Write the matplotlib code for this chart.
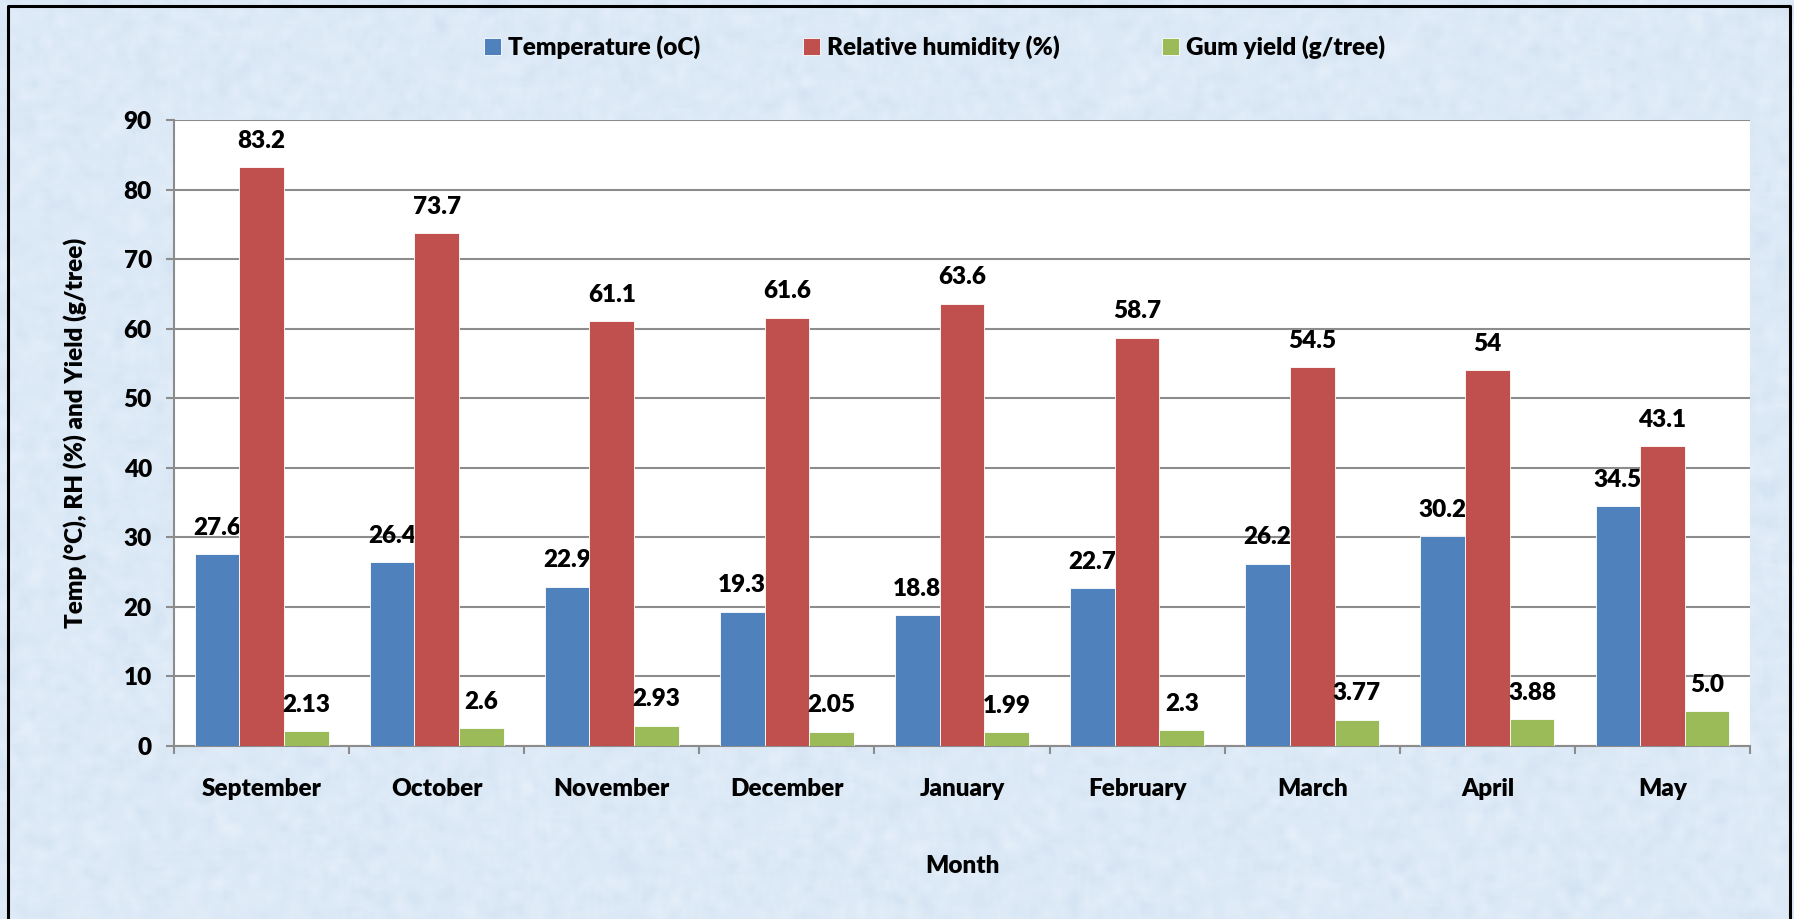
import numpy as np
import matplotlib
matplotlib.use("Agg")
import matplotlib.pyplot as plt
from matplotlib.lines import Line2D

plt.rcParams['font.family'] = ['Lato', 'DejaVu Sans']
plt.rcParams['font.weight'] = 'heavy'

# Monthly climate and gum yield
months = ['September', 'October', 'November', 'December', 'January',
          'February', 'March', 'April', 'May']
temp_labels = ['27.6', '26.4', '22.9', '19.3', '18.8', '22.7', '26.2', '30.2', '34.5']
rh_labels = ['83.2', '73.7', '61.1', '61.6', '63.6', '58.7', '54.5', '54', '43.1']
gum_labels = ['2.13', '2.6', '2.93', '2.05', '1.99', '2.3', '3.77', '3.88', '5.0']

series = [
    ('Temperature (oC)', temp_labels, '#4F81BD'),
    ('Relative humidity (%)', rh_labels, '#C0504D'),
    ('Gum yield (g/tree)', gum_labels, '#9BBB59'),
]

bg = '#DCE8F6'
grid_col = '#8C8C8C'
fs = 17.5
fw = 'heavy'

fig = plt.figure(figsize=(17.94, 9.19), dpi=100, facecolor=bg)

# fine mottled paper texture behind everything
rng = np.random.default_rng(7)
tex = rng.normal(size=(230, 450))
k = np.ones(3) / 3
tex = np.apply_along_axis(lambda r: np.convolve(r, k, mode='same'), 1, tex)
tex = np.apply_along_axis(lambda c: np.convolve(c, k, mode='same'), 0, tex)
tex = np.clip((tex + 1.2) / 2.4, 0, 1)
c0 = np.array([0.83, 0.89, 0.95])
c1 = np.array([0.90, 0.94, 0.98])
img = c0 + (c1 - c0) * tex[..., None]
bax = fig.add_axes([0, 0, 1, 1], zorder=-10)
bax.imshow(img, aspect='auto', interpolation='bilinear', extent=[0, 1, 0, 1])
bax.axis('off')

ax = fig.add_axes([0.097, 0.1883, 0.8785, 0.6811])
ax.set_facecolor('white')

x = np.arange(len(months))
w = 0.255
for i, (name, labels, col) in enumerate(series):
    vals = [float(v) for v in labels]
    pos = x + (i - 1) * w
    bars = ax.bar(pos, vals, width=w, color=col, edgecolor='white', linewidth=0.6,
                  label=name, zorder=3)
    for b, txt in zip(bars, labels):
        ax.annotate(txt, (b.get_x() + b.get_width() / 2, b.get_height()),
                    xytext=(0, 11), textcoords='offset points',
                    ha='center', va='bottom', fontsize=fs, fontweight=fw)

ax.set_xlim(-0.5, len(months) - 0.5)
ax.set_ylim(0, 90)
ax.set_yticks(np.arange(0, 91, 10))
ax.yaxis.grid(True, color=grid_col, linewidth=1.5, zorder=0)

# category labels in the middle, tick marks on the boundaries
ax.set_xticks(x)
ax.set_xticklabels(months)
ax.set_xticks(np.arange(-0.5, len(months)), minor=True)
ax.tick_params(axis='x', which='major', length=0, pad=23, labelsize=fs)
ax.tick_params(axis='x', which='minor', length=6, width=1.5, color=grid_col)
ax.tick_params(axis='y', length=6, width=1.5, color=grid_col, pad=10, labelsize=fs)

for s in ['top', 'right']:
    ax.spines[s].set_visible(False)
for s in ['left', 'bottom']:
    ax.spines[s].set_color(grid_col)
    ax.spines[s].set_linewidth(1.5)

ax.set_xlabel('Month', fontsize=fs, fontweight=fw, labelpad=40)
ax.set_ylabel('Temp (°C), RH (%) and Yield (g/tree)', fontsize=fs,
              fontweight=fw, labelpad=26)

fig.legend(loc='center', bbox_to_anchor=(0.521, 0.949), ncol=3, frameon=False,
           fontsize=fs, handlelength=0.7, handleheight=0.7, handletextpad=0.3,
           columnspacing=4.2)

# outer frame (open at the bottom)
fx = [8 / 1794, 8 / 1794, 1790 / 1794, 1790 / 1794]
fy = [0, 1 - 6 / 919, 1 - 6 / 919, 0]
fig.add_artist(Line2D(fx, fy, transform=fig.transFigure, color='black', linewidth=2.2))

fig.savefig('out.png', dpi=100, facecolor=bg)
